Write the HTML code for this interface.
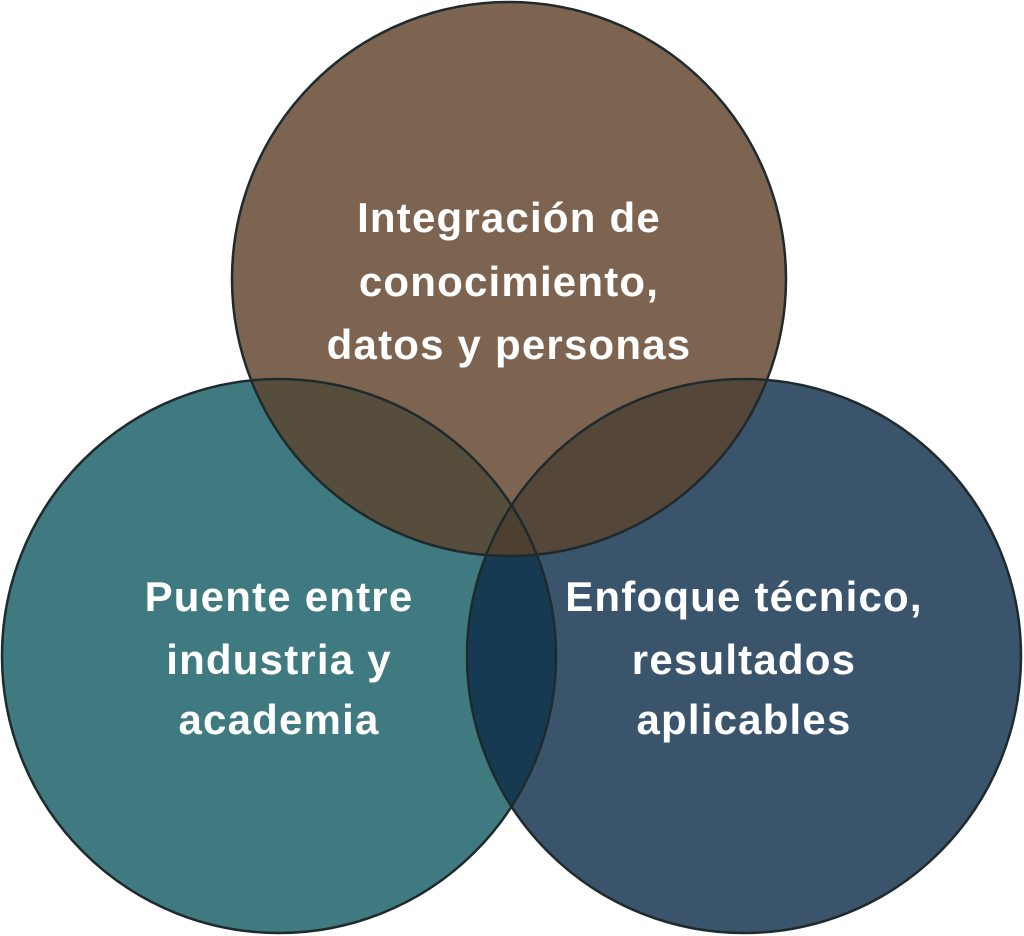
<!DOCTYPE html>
<html><head><meta charset="utf-8"><style>
html,body{margin:0;padding:0;background:#fff;}
svg{display:block}
text{font-family:"Liberation Sans",sans-serif;font-weight:bold;font-size:42px;letter-spacing:1.2px;fill:#fff;text-anchor:middle}
</style></head><body>
<svg width="1024" height="936" viewBox="0 0 1024 936">
<defs>
<clipPath id="cT"><circle cx="509" cy="279" r="277"/></clipPath>
<clipPath id="cL"><circle cx="279" cy="656" r="277"/></clipPath>
<clipPath id="cR"><circle cx="744" cy="656" r="277"/></clipPath>
</defs>
<circle cx="279" cy="656" r="277" fill="#3f7a80"/>
<circle cx="744" cy="656" r="277" fill="#3a546b"/>
<circle cx="509" cy="279" r="277" fill="#7d6450"/>
<g clip-path="url(#cL)"><circle cx="744" cy="656" r="277" fill="#163a52"/></g>
<g clip-path="url(#cT)"><circle cx="279" cy="656" r="277" fill="#574d3c"/><circle cx="744" cy="656" r="277" fill="#54473a"/></g>
<g clip-path="url(#cT)"><g clip-path="url(#cL)"><circle cx="744" cy="656" r="277" fill="#4e4030"/></g></g>
<g fill="none" stroke="#1f2a2c" stroke-width="2.5">
<circle cx="279" cy="656" r="277"/>
<circle cx="744" cy="656" r="277"/>
<circle cx="509" cy="279" r="277"/>
</g>
<text x="509" y="232">Integración de</text>
<text x="509" y="296">conocimiento,</text>
<text x="509" y="359">datos y personas</text>
<text x="279" y="611">Puente entre</text>
<text x="279" y="674">industria y</text>
<text x="279" y="734">academia</text>
<text x="744" y="611">Enfoque técnico,</text>
<text x="744" y="674">resultados</text>
<text x="744" y="734">aplicables</text>
</svg>
</body></html>
